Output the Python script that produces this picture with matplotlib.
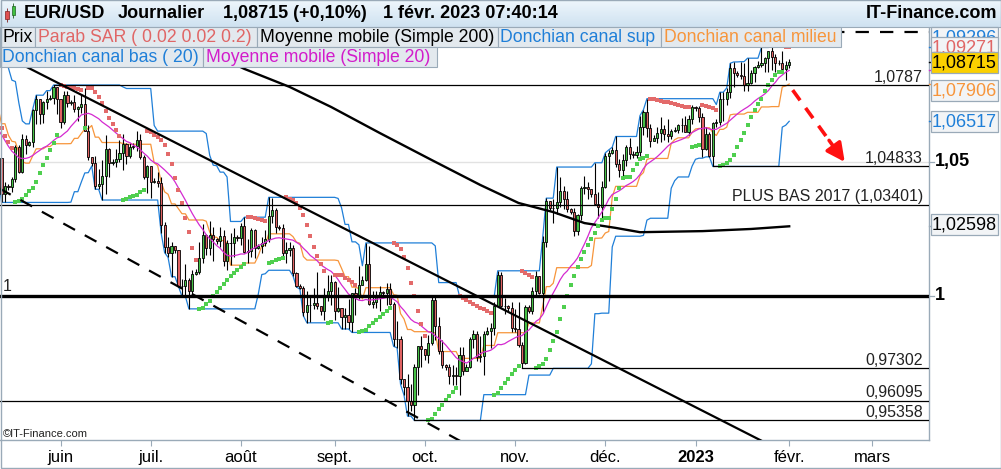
import numpy as np
import pandas as pd
import matplotlib
matplotlib.use("Agg")
import matplotlib.pyplot as plt
from matplotlib.patches import Rectangle

# EUR/USD daily bars (Sun..Fri), 17 Apr 2022 -> 1 Feb 2023, one row per week
first_open = 1.0810
close = [
    1.0805, 1.0780, 1.0786, 1.0853, 1.0836, 1.0799,
    1.0790, 1.0714, 1.0640, 1.0558, 1.0499, 1.0545,
    1.0535, 1.0507, 1.0522, 1.0621, 1.0540, 1.0551,
    1.0540, 1.0559, 1.0529, 1.0513, 1.0380, 1.0412,
    1.0408, 1.0437, 1.0554, 1.0464, 1.0585, 1.0563,
    1.0575, 1.0692, 1.0733, 1.0680, 1.0724, 1.0735,
    1.0740, 1.0780, 1.0733, 1.0648, 1.0749, 1.0719,
    1.0722, 1.0696, 1.0704, 1.0716, 1.0616, 1.0519,
    1.0495, 1.0409, 1.0416, 1.0446, 1.0548, 1.0496,
    1.0500, 1.0510, 1.0535, 1.0567, 1.0521, 1.0554,
    1.0560, 1.0583, 1.0519, 1.0443, 1.0484, 1.0425,
    1.0430, 1.0423, 1.0265, 1.0182, 1.0161, 1.0187,
    1.0170, 1.0038, 1.0036, 1.0059, 1.0019, 1.0083,
    1.0090, 1.0142, 1.0228, 1.0179, 1.0229, 1.0212,
    1.0205, 1.0225, 1.0131, 1.0198, 1.0197, 1.0220,
    1.0215, 1.0260, 1.0163, 1.0168, 1.0247, 1.0180,
    1.0185, 1.0197, 1.0211, 1.0297, 1.0320, 1.0259,
    1.0255, 1.0160, 1.0170, 1.0178, 1.0087, 1.0036,
    1.0030, 0.9941, 0.9968, 0.9967, 0.9975, 0.9962,
    0.9945, 1.0003, 1.0017, 1.0054, 0.9945, 0.9954,
    0.9920, 0.9928, 0.9903, 1.0011, 0.9997, 1.0041,
    1.0060, 1.0121, 0.9969, 0.9979, 0.9997, 1.0014,
    1.0010, 1.0026, 0.9969, 0.9838, 0.9838, 0.9689,
    0.9660, 0.9608, 0.9593, 0.9735, 0.9815, 0.9802,
    0.9780, 0.9826, 0.9985, 0.9888, 0.9793, 0.9743,
    0.9735, 0.9700, 0.9707, 0.9703, 0.9779, 0.9722,
    0.9735, 0.9839, 0.9857, 0.9774, 0.9778, 0.9860,
    0.9870, 0.9880, 0.9964, 1.0077, 0.9964, 0.9962,
    0.9955, 0.9882, 0.9877, 0.9818, 0.9749, 0.9959,
    0.9945, 1.0019, 1.0074, 1.0012, 1.0202, 1.0354,
    1.0330, 1.0327, 1.0349, 1.0393, 1.0363, 1.0325,
    1.0315, 1.0241, 1.0302, 1.0402, 1.0408, 1.0399,
    1.0380, 1.0342, 1.0331, 1.0406, 1.0524, 1.0535,
    1.0545, 1.0492, 1.0469, 1.0507, 1.0557, 1.0531,
    1.0525, 1.0537, 1.0630, 1.0686, 1.0626, 1.0580,
    1.0590, 1.0609, 1.0623, 1.0606, 1.0596, 1.0617,
    1.0620, 1.0638, 1.0639, 1.0612, 1.0662, 1.0705,
    1.0700, 1.0668, 1.0548, 1.0606, 1.0522, 1.0645,
    1.0650, 1.0733, 1.0735, 1.0762, 1.0850, 1.0832,
    1.0825, 1.0820, 1.0788, 1.0796, 1.0830, 1.0856,
    1.0860, 1.0870, 1.0886, 1.0915, 1.0891, 1.0868,
    1.0870, 1.0845, 1.0862, 1.08715,
]
high = [
    1.0815, 1.0817, 1.0818, 1.0868, 1.0936, 1.0850,
    1.0805, 1.0800, 1.0720, 1.0653, 1.0570, 1.0593,
    1.0550, 1.0566, 1.0580, 1.0641, 1.0642, 1.0593,
    1.0555, 1.0593, 1.0580, 1.0577, 1.0513, 1.0426,
    1.0418, 1.0443, 1.0564, 1.0565, 1.0606, 1.0600,
    1.0580, 1.0697, 1.0749, 1.0736, 1.0728, 1.0766,
    1.0750, 1.0787, 1.0778, 1.0736, 1.0765, 1.0764,
    1.0730, 1.0750, 1.0708, 1.0748, 1.0774, 1.0636,
    1.0515, 1.0524, 1.0474, 1.0506, 1.0601, 1.0553,
    1.0510, 1.0547, 1.0583, 1.0606, 1.0571, 1.0572,
    1.0570, 1.0615, 1.0606, 1.0525, 1.0488, 1.0486,
    1.0440, 1.0462, 1.0444, 1.0276, 1.0219, 1.0200,
    1.0185, 1.0150, 1.0063, 1.0121, 1.0069, 1.0097,
    1.0100, 1.0200, 1.0269, 1.0233, 1.0278, 1.0256,
    1.0215, 1.0258, 1.0248, 1.0209, 1.0235, 1.0255,
    1.0228, 1.0274, 1.0294, 1.0213, 1.0254, 1.0250,
    1.0195, 1.0221, 1.0248, 1.0368, 1.0364, 1.0329,
    1.0265, 1.0267, 1.0202, 1.0202, 1.0191, 1.0091,
    1.0045, 1.0038, 1.0018, 0.9999, 1.0030, 1.0090,
    0.9960, 1.0028, 1.0079, 1.0080, 1.0055, 1.0033,
    0.9945, 0.9954, 0.9989, 1.0011, 1.0030, 1.0113,
    1.0075, 1.0198, 1.0187, 1.0020, 1.0017, 1.0037,
    1.0020, 1.0049, 1.0050, 0.9976, 0.9907, 0.9852,
    0.9690, 0.9710, 0.9671, 0.9748, 0.9815, 0.9852,
    0.9800, 0.9854, 0.9999, 0.9998, 0.9920, 0.9835,
    0.9745, 0.9747, 0.9742, 0.9734, 0.9809, 0.9809,
    0.9745, 0.9848, 0.9875, 0.9870, 0.9851, 0.9870,
    0.9885, 0.9900, 0.9976, 1.0094, 1.0089, 0.9992,
    0.9965, 0.9977, 0.9953, 0.9976, 0.9829, 0.9965,
    0.9965, 1.0033, 1.0093, 1.0075, 1.0223, 1.0365,
    1.0350, 1.0361, 1.0481, 1.0443, 1.0410, 1.0392,
    1.0330, 1.0329, 1.0307, 1.0412, 1.0448, 1.0424,
    1.0395, 1.0497, 1.0388, 1.0429, 1.0534, 1.0545,
    1.0555, 1.0595, 1.0512, 1.0528, 1.0563, 1.0588,
    1.0540, 1.0560, 1.0673, 1.0695, 1.0736, 1.0640,
    1.0600, 1.0630, 1.0666, 1.0637, 1.0659, 1.0624,
    1.0630, 1.0640, 1.0664, 1.0670, 1.0676, 1.0714,
    1.0710, 1.0710, 1.0683, 1.0630, 1.0610, 1.0650,
    1.0660, 1.0760, 1.0760, 1.0776, 1.0868, 1.0873,
    1.0840, 1.0874, 1.0868, 1.0887, 1.0843, 1.0858,
    1.0875, 1.0927, 1.0893, 1.0913, 1.09296, 1.0902,
    1.0880, 1.0914, 1.0875, 1.0885,
]
low = [
    1.0790, 1.0770, 1.0758, 1.0786, 1.0826, 1.0770,
    1.0780, 1.0697, 1.0635, 1.0515, 1.0470, 1.0490,
    1.0525, 1.0490, 1.0492, 1.0505, 1.0493, 1.0484,
    1.0530, 1.0500, 1.0520, 1.0502, 1.0349, 1.0350,
    1.0395, 1.0389, 1.0425, 1.0459, 1.0460, 1.0531,
    1.0558, 1.0557, 1.0643, 1.0641, 1.0646, 1.0699,
    1.0730, 1.0716, 1.0680, 1.0627, 1.0641, 1.0706,
    1.0712, 1.0686, 1.0654, 1.0684, 1.0614, 1.0507,
    1.0485, 1.0398, 1.0398, 1.0358, 1.0381, 1.0445,
    1.0488, 1.0481, 1.0498, 1.0470, 1.0494, 1.0513,
    1.0548, 1.0540, 1.0510, 1.0436, 1.0383, 1.0366,
    1.0420, 1.0405, 1.0235, 1.0162, 1.0144, 1.0072,
    1.0160, 1.0035, 0.9999, 0.9998, 0.9952, 1.0007,
    1.0080, 1.0083, 1.0124, 1.0152, 1.0153, 1.0130,
    1.0195, 1.0182, 1.0112, 1.0096, 1.0114, 1.0145,
    1.0205, 1.0190, 1.0161, 1.0123, 1.0147, 1.0141,
    1.0175, 1.0160, 1.0185, 1.0203, 1.0273, 1.0236,
    1.0245, 1.0149, 1.0123, 1.0150, 1.0075, 1.0034,
    1.0025, 0.9926, 0.9900, 0.9902, 0.9950, 0.9950,
    0.9930, 0.9911, 0.9982, 0.9966, 0.9910, 0.9942,
    0.9877, 0.9877, 0.9878, 0.9864, 0.9929, 0.9990,
    1.0040, 1.0057, 0.9966, 0.9955, 0.9956, 0.9944,
    0.9995, 0.9966, 0.9966, 0.9812, 0.9807, 0.9670,
    0.9630, 0.9552, 0.9572, 0.95358, 0.9632, 0.9737,
    0.9760, 0.9750, 0.9817, 0.9836, 0.9784, 0.9732,
    0.9725, 0.9670, 0.9669, 0.9669, 0.9632, 0.9705,
    0.9720, 0.9730, 0.9805, 0.9758, 0.9755, 0.9705,
    0.9855, 0.9807, 0.9856, 0.9960, 0.9960, 0.9933,
    0.9945, 0.9867, 0.9866, 0.9811, 0.97302, 0.9747,
    0.9935, 0.9934, 1.0000, 1.0008, 0.9936, 1.0183,
    1.0320, 1.0271, 1.0306, 1.0331, 1.0325, 1.0315,
    1.0305, 1.0223, 1.0226, 1.0283, 1.0382, 1.0361,
    1.0370, 1.0339, 1.0290, 1.0290, 1.0402, 1.0430,
    1.0530, 1.0480, 1.0445, 1.0444, 1.0484, 1.0510,
    1.0515, 1.0514, 1.0523, 1.0599, 1.0593, 1.0557,
    1.0580, 1.0570, 1.0574, 1.0583, 1.0573, 1.0586,
    1.0610, 1.0608, 1.0610, 1.0610, 1.0602, 1.0640,
    1.0690, 1.0650, 1.0519, 1.0544, 1.0520, 1.04833,
    1.0630, 1.0637, 1.06517, 1.0712, 1.0740, 1.0780,
    1.0815, 1.0810, 1.0766, 1.0766, 1.0790, 1.0797,
    1.0850, 1.0855, 1.0834, 1.0836, 1.0844, 1.0836,
    1.0860, 1.0836, 1.0804, 1.0850,
]

# 200-day SMA
sma200_dates = ["2022-07-15", "2022-08-02", "2022-08-17", "2022-08-31", "2022-09-16",
                "2022-10-04", "2022-10-20", "2022-11-02", "2022-11-14", "2022-11-24",
                "2022-12-05", "2022-12-13", "2023-01-03", "2023-01-19", "2023-02-01"]
sma200_vals = [1.0940, 1.0847, 1.0780, 1.0705, 1.0608, 1.0507, 1.0414, 1.0347, 1.0313,
               1.0272, 1.0254, 1.0238, 1.0242, 1.0250, 1.0260]

# drawn support / resistance levels
level_vals = [1.0787, 1.04833, 1.03401, 0.97302, 0.96095, 0.95358]
level_from = ["2022-05-30", "2023-01-06", None, "2022-11-03", None, "2022-09-28"]
level_text = ["1,0787", "1,04833", "PLUS BAS 2017 (1,03401)", "0,97302", "0,96095", "0,95358"]
top_dashed = 1.0985

trend_solid = [("2022-05-10", 1.0915), ("2023-02-02", 0.9401)]
trend_dashed = [("2022-05-10", 1.0411), ("2022-10-20", 0.9418)]
arrow_pts = [("2023-02-02", 1.0768), ("2023-02-20", 1.0500)]

month_labels = ["juin", "juil.", "août", "sept.", "oct.", "nov.", "déc.", "2023", "févr.", "mars"]
box_text = ["1,09296", "1,09271", "1,08715", "1,07906", "1,06517", "1,02598"]
box_color = ["#1f7fd8", "#e06666", "black", "#f7953b", "#1f7fd8", "black"]

# ---- series ----
wk = "Sun Mon Tue Wed Thu Fri"
dates = pd.bdate_range("2022-04-17", "2023-02-01", freq="C", weekmask=wk)
cal = pd.bdate_range("2022-04-17", "2023-03-31", freq="C", weekmask=wk)
close = np.array(close)
opn = np.r_[first_open, close[:-1]]
high = np.maximum.reduce([np.array(high), opn, close])
low = np.minimum.reduce([np.array(low), opn, close])
x = np.arange(len(close))


def pos(d):
    return cal.get_loc(pd.Timestamp(d))


cs = pd.Series(close)
sma20 = cs.rolling(20, min_periods=1).mean()
dc_up = pd.Series(high).rolling(20, min_periods=1).max()
dc_lo = pd.Series(low).rolling(20, min_periods=1).min()
dc_mid = (dc_up + dc_lo) / 2


def psar(h, l, af0=0.02, step=0.02, amax=0.2):
    n = len(h)
    sar = np.zeros(n)
    up = np.zeros(n, bool)
    bull = False
    ep, af, sar[0] = l[0], af0, h[0]
    for i in range(1, n):
        s = sar[i - 1] + af * (ep - sar[i - 1])
        if bull:
            s = min(s, l[i - 1], l[max(i - 2, 0)])
            if l[i] < s:
                bull, s, ep, af = False, ep, l[i], af0
            elif h[i] > ep:
                ep, af = h[i], min(af + step, amax)
        else:
            s = max(s, h[i - 1], h[max(i - 2, 0)])
            if h[i] > s:
                bull, s, ep, af = True, ep, h[i], af0
            elif l[i] < ep:
                ep, af = l[i], min(af + step, amax)
        sar[i], up[i] = s, bull
    return sar, up


sar, sar_up = psar(high, low)

# ---- figure ----
W, H = 1001, 469
fig = plt.figure(figsize=(W / 100, H / 100), dpi=100)
fig.patch.set_facecolor("white")
ax = fig.add_axes([0, 29 / H, 929 / W, 413 / H])
ybot, ytop = 1 - 144 / 2681, 1 + 269 / 2681
x0 = pos("2022-06-01") - 60.5 / 3.47
x1 = x0 + 929 / 3.47
ax.set_xlim(x0, x1)
ax.set_ylim(ybot, ytop)

ax.axhline(1.05, color="#e2e2e2", lw=1, zorder=1)

ax.plot(x, dc_up, color="#1f7fd8", lw=0.9, zorder=2)
ax.plot(x, dc_lo, color="#1f7fd8", lw=0.9, zorder=2)
ax.plot(x, dc_mid, color="#f7953b", lw=0.9, zorder=2)

rising = close >= opn
ax.vlines(x, low, high, color="black", lw=0.8, zorder=3)
ax.bar(x[rising], close[rising] - opn[rising], bottom=opn[rising], width=0.62,
       color="#45c145", edgecolor="black", linewidth=0.6, zorder=4)
ax.bar(x[~rising], opn[~rising] - close[~rising], bottom=close[~rising], width=0.62,
       color="#e06262", edgecolor="black", linewidth=0.6, zorder=4)

ax.plot(x, sma20, color="#d42ad0", lw=0.9, zorder=5)
ax.plot([pos(d) for d in sma200_dates], sma200_vals, color="black", lw=1.7, zorder=5)
ax.plot(x[sar_up], sar[sar_up], "s", color="#4fcf4f", ms=3.0, mew=0, zorder=6)
ax.plot(x[~sar_up], sar[~sar_up], "s", color="#e36a6a", ms=3.0, mew=0, zorder=6)

# levels
ax.axhline(1.0, color="black", lw=2.4, zorder=7)
for v, d in zip(level_vals, level_from):
    start = x0 if d is None else pos(d)
    ax.plot([start, x1], [v, v], color="black", lw=0.9, zorder=7)
ax.plot([x0, x1], [top_dashed] * 2, color="black", lw=1.6, dashes=(6, 5), zorder=7)
(a, b) = trend_solid
ax.plot([pos(a[0]), pos(b[0])], [a[1], b[1]], color="black", lw=1.6, zorder=7)
(a, b) = trend_dashed
ax.plot([pos(a[0]), pos(b[0])], [a[1], b[1]], color="black", lw=1.6, dashes=(6, 5), zorder=7)

# red arrow
(a, b) = arrow_pts
xa, xb = pos(a[0]), pos(b[0])
fr = 0.72
ax.plot([xa, xa + fr * (xb - xa)], [a[1], a[1] + fr * (b[1] - a[1])], color="#ff1010",
        lw=2.6, dashes=(3.5, 2.6), zorder=8)
ax.annotate("", xy=(xb, b[1]), xytext=(xa + 0.7 * (xb - xa), a[1] + 0.7 * (b[1] - a[1])),
            arrowprops=dict(arrowstyle="-|>,head_length=1.1,head_width=0.55", color="#ff1010",
                            lw=2.6, shrinkA=0, shrinkB=0), zorder=8)

# x axis
months = pd.period_range("2022-06", "2023-03", freq="M")
ticks = [int(np.argmax(cal.to_period("M") == m)) for m in months]
ax.set_xticks(ticks)
ax.set_xticklabels(month_labels, fontsize=12, family=["Liberation Sans Narrow", "Liberation Sans"])
ax.get_xticklabels()[7].set_fontweight("bold")
ax.tick_params(axis="x", length=4, width=0.8, color="#9aaab8", pad=3)
ax.tick_params(axis="y", left=False, labelleft=False)
for s in ["top", "left"]:
    ax.spines[s].set_visible(False)
for s in ["bottom", "right"]:
    ax.spines[s].set_color("#9aaab8")
    ax.spines[s].set_linewidth(1)

# ---- overlay in pixel coordinates ----
ov = fig.add_axes([0, 0, 1, 1], zorder=10)
ov.set_xlim(0, W)
ov.set_ylim(H, 0)
ov.axis("off")
fnt = "Liberation Sans"


def ypx(p):
    return 27 + (ytop - p) / (ytop - ybot) * 413


# title bar
grad = np.linspace(0, 1, 27)[:, None]
ov.imshow(grad, extent=(0, W, 27, 0), cmap=matplotlib.colors.LinearSegmentedColormap.from_list(
    "t", ["#eef6fc", "#cfe2f1"]), aspect="auto", zorder=1)
ov.plot([0, W], [27, 27], color="#9aaab8", lw=0.8, zorder=2)
ov.add_patch(Rectangle((5, 11), 3.5, 8, fc="#e05050", ec="#802020", lw=0.5, zorder=3))
ov.vlines(6.75, 8, 22, color="#802020", lw=0.6, zorder=2)
ov.add_patch(Rectangle((11.5, 6), 3.5, 9, fc="#40c040", ec="#206020", lw=0.5, zorder=3))
ov.vlines(13.25, 3, 18, color="#206020", lw=0.6, zorder=2)
for tx, xp in [("EUR/USD", 24), ("Journalier", 118), ("1,08715 (+0,10%)", 223),
               ("1 févr. 2023 07:40:14", 383)]:
    ov.text(xp, 14, tx, fontsize=13, fontweight="bold", family=fnt, va="center", zorder=4)
ov.text(997, 14, "IT-Finance.com", fontsize=13, fontweight="bold", family=fnt, va="center",
        ha="right", zorder=4)

# legend boxes
legend = [
    (0, 27, 35, "Prix", "black"), (35, 27, 257, "Parab SAR ( 0.02 0.02 0.2)", "#e06666"),
    (257, 27, 498, "Moyenne mobile (Simple 200)", "black"),
    (498, 27, 661, "Donchian canal sup", "#1f7fd8"), (661, 27, 841, "Donchian canal milieu", "#f7953b"),
    (0, 47, 203, "Donchian canal bas ( 20)", "#1f7fd8"), (203, 47, 437, "Moyenne mobile (Simple 20)", "#d21ccb"),
]
for xl, yt, xr, tx, c in legend:
    ov.add_patch(Rectangle((xl, yt), xr - xl, 20.5, fc="#e3e9ee", ec="#9aaab8", lw=0.8, zorder=3))
    ov.text(xl + 2.5, yt + 10.5, tx, fontsize=12.7, color=c, family=fnt, va="center", zorder=4)

# level labels
for v, tx in zip(level_vals, level_text):
    ov.text(923, ypx(v) - 3.5, tx, fontsize=11.5, color="#222222", family=fnt, ha="right",
            va="baseline", zorder=4)
ov.text(3, ypx(1.0) - 4.5, "1", fontsize=11.5, color="#222222", family=fnt, va="baseline", zorder=4)
ov.text(3, 437, "©IT-Finance.com", fontsize=8, color="#222222", family=fnt, va="baseline", zorder=4)

# right price scale
for v in [1.05, 1.0]:
    ov.plot([929, 934], [ypx(v)] * 2, color="#9aaab8", lw=0.9, zorder=2)
    ov.text(935, ypx(v), f"{v:.2f}".replace(".", ",").rstrip("0").rstrip(","), fontsize=13,
            fontweight="bold", family=fnt, va="center", zorder=4)
tick_cols = [(float(dc_up.iloc[-1]), "#1f7fd8"), (float(close[-1]), "black"),
             (float(sma20.iloc[-1]), "#d42ad0"), (float(dc_mid.iloc[-1]), "#f7953b"),
             (float(dc_lo.iloc[-1]), "#1f7fd8"), (sma200_vals[-1], "#9aaab8")]
for v, c in tick_cols:
    ov.plot([929, 934], [ypx(v)] * 2, color=c, lw=1, zorder=2)
centers = [ypx(float(t.replace(",", "."))) for t in box_text]
centers[0] -= 9
centers[3] += 6
centers[5] -= 2
for tx, c, yc in zip(box_text, box_color, centers):
    fc = "#fbd000" if tx == "1,08715" else "#f2f4f6"
    ov.add_patch(Rectangle((931, yc - 10.5), 67, 21, fc=fc, ec="#9aaab8", lw=0.9, zorder=3))
    ov.text(964.5, yc + 0.5, tx, fontsize=13, color=c, family=fnt, ha="center", va="center", zorder=3)

ov.add_patch(Rectangle((0.5, 0.5), W - 1, H - 1, fill=False, ec="#9aaab8", lw=1, zorder=5))

fig.savefig("out.png", dpi=100)
